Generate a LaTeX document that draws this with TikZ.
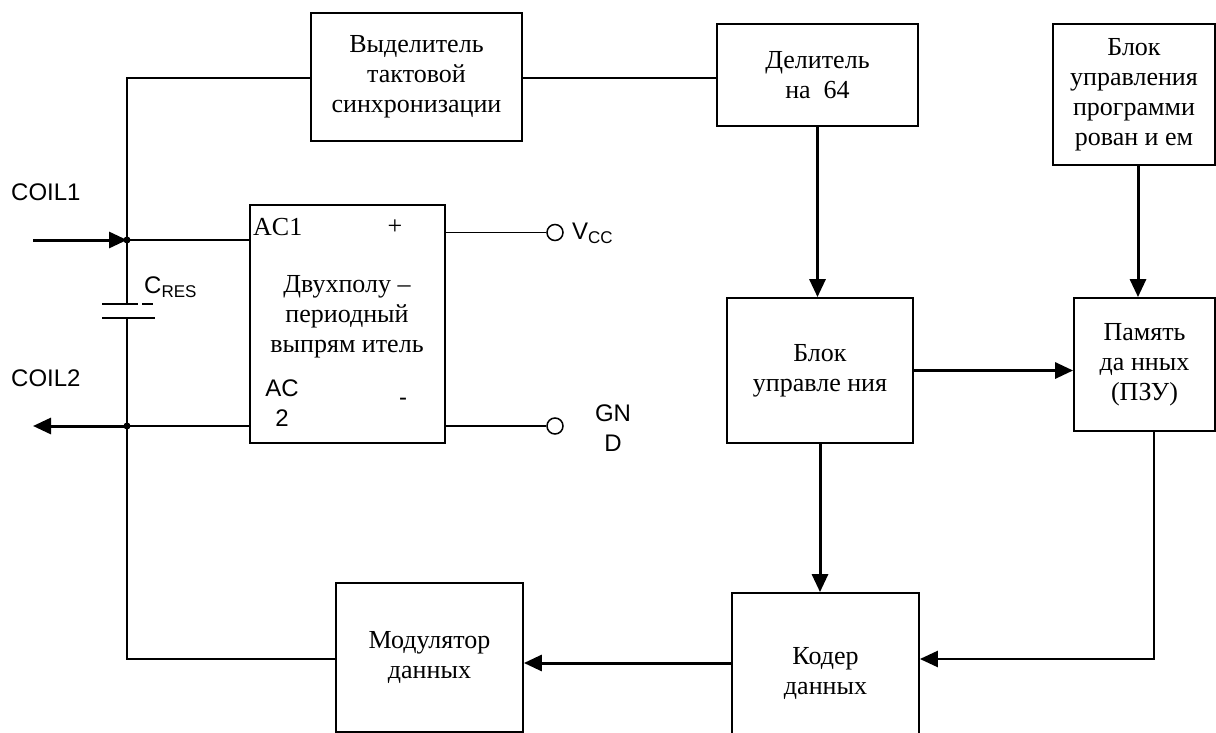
\documentclass[tikz,border=0pt]{standalone}
\usepackage{fontspec}
\setmainfont{Liberation Serif}
\newfontfamily\arialfam{Liberation Sans}
\usetikzlibrary{arrows.meta}
\newcommand\blkfont{\fontsize{26}{30}\selectfont}
\newcommand\pinfont{\arialfam\fontsize{24}{30}\selectfont}
\newcommand\subfont{\arialfam\fontsize{17}{17}\selectfont}
\tikzset{
  blk/.style={draw, line width=1.8pt, align=center, inner sep=0pt, font=\blkfont},
  txt/.style={inner sep=0pt, align=center, font=\blkfont},
  pintxt/.style={inner sep=0pt, align=center, font=\pinfont},
  wire/.style={line width=1.5pt},
  plate/.style={line width=2pt},
  bus/.style={line width=3pt, -{Triangle[length=18pt,width=16pt]}},
  pin/.style={circle, draw, line width=1.5pt, minimum size=16pt, inner sep=0pt},
}

\begin{document}
\begin{tikzpicture}[x=1pt,y=-1pt]
\clip (0,0) rectangle (1216,733);
% blocks
\node[blk, minimum width=211pt, minimum height=128pt] (vyd) at (416.5,77) {Выделитель\\тактовой\\синхронизации};
\node[blk, minimum width=201pt, minimum height=102pt] (del) at (817.5,75) {Делитель\\на~~64};
\node[blk, minimum width=162pt, minimum height=141pt] (prog) at (1134,94.5) {Блок\\управления\\программи\\рован и ем};
\node[blk, minimum width=186pt, minimum height=145pt] (ctl) at (820,370.5) {Блок\\управле ния};
\node[blk, minimum width=141pt, minimum height=133pt] (mem) at (1144.5,364.5) {Память\\да нных\\(ПЗУ)};
\node[blk, minimum width=187pt, minimum height=160pt] (enc) at (825.5,673) {Кодер\\данных};
\node[blk, minimum width=187pt, minimum height=149pt] (mod) at (429.5,657.5) {Модулятор\\данных};
\node[blk, minimum width=195pt, minimum height=238pt] (rect) at (347.5,324) {};
% rectifier labels
\node[txt, anchor=west] (ac1) at (253,227) {AC1};
\node[txt] (plus) at (395,227) {+};
\node[txt] (rtxt) at (347,317) {Двухполу –\\периодный\\выпрям итель};
\node[pintxt] (ac2) at (282,403) {AC\\2};
\node[pintxt] (minus) at (403,402) {-};
% pins and left labels
\node[pin] (vcc) at (555,232.5) {};
\node[pin] (gnd) at (555,426) {};
\node[pintxt, anchor=west] (vcctxt) at (572,233) {V\raisebox{-4pt}{\subfont CC}};
\node[pintxt] (gndtxt) at (613,428) {GN\\D};
\node[pintxt, anchor=west] (coil1) at (11,192) {COIL1};
\node[pintxt, anchor=west] (coil2) at (11,378) {COIL2};
\node[pintxt, anchor=west] (cres) at (144,287) {C\raisebox{-4pt}{\subfont RES}};
% bus points
\coordinate (top) at (127,78);
\coordinate (j1) at (127,240);
\coordinate (j2) at (127,426);
\coordinate (cap1) at (127,304);
\coordinate (cap2) at (127,318);
\coordinate (bot) at (127,659);
\coordinate (c1in) at (33,240);
\coordinate (c2out) at (33,426);
\coordinate (arr) at (0,663);
% thin wires
\draw[wire] (top -| vyd.west) -- (top) -- (cap1);
\draw[wire] (top -| vyd.east) -- (top -| del.west);
\draw[wire] (cap2) -- (bot) -- (bot -| mod.west);
\draw[wire] (j1) -- (j1 -| rect.west);
\draw[wire] (j2) -- (j2 -| rect.west);
\draw[wire] (rect.east |- vcc) -- (vcc.west);
\draw[wire] (rect.east |- gnd) -- (gnd.west);
\fill (j1) circle (3.5pt);
\fill (j2) circle (3.5pt);
% capacitor
\draw[plate] (102,304) -- (138,304);
\draw[plate] (142,304) -- (153,304);
\draw[plate] (102,318) -- (155,318);
% signal arrows
\draw[bus] (c1in) -- (j1);
\draw[bus] (j2) -- (c2out);
\draw[bus] (del.south) -- (del.south |- ctl.north);
\draw[bus] ([xshift=4pt]prog.south) -- ([xshift=4pt]prog.south |- mem.north);
\draw[bus] (ctl.east) -- (ctl.east -| mem.west);
\draw[bus] (ctl.south) -- (ctl.south |- enc.north);
\draw[bus, line width=2.5pt] ([xshift=9.5pt]mem.south) |- (enc.east |- bot);
\draw[bus] (enc.west |- arr) -- (mod.east |- arr);
\end{tikzpicture}
\end{document}
